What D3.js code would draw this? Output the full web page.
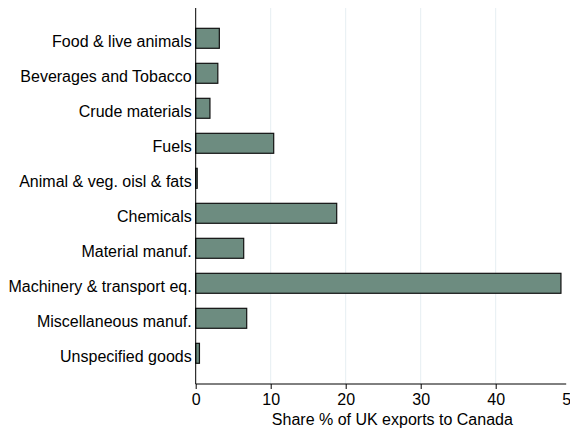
<!DOCTYPE html>
<html>
<head>
<meta charset="utf-8">
<script src="https://cdn.jsdelivr.net/npm/d3@7"></script>
<style>
  html, body { margin: 0; padding: 0; background: #fff; }
  svg { display: block; font-family: "Liberation Sans", Arial, sans-serif; }
</style>
</head>
<body>
<svg id="chart" width="570" height="430"></svg>
<script>
// SITC product groups and their share of UK exports to Canada (%)
const categories = [
  "Food & live animals",
  "Beverages and Tobacco",
  "Crude materials",
  "Fuels",
  "Animal & veg. oisl & fats",
  "Chemicals",
  "Material manuf.",
  "Machinery & transport eq.",
  "Miscellaneous manuf.",
  "Unspecified goods"
];
const shares = [3.15, 2.95, 1.9, 10.4, 0.2, 18.8, 6.4, 48.7, 6.8, 0.5];
const xTicks = [0, 10, 20, 30, 40, 50];
const xTitle = "Share % of UK exports to Canada";

const data = categories.map((c, i) => ({ cat: c, value: shares[i] }));

const svg = d3.select("#chart");
const x0 = 195.7, xEnd = 570.7;   // 0 .. 50
const plotTop = 8, plotBottom = 384;
const FONT = "Liberation Sans, Arial, sans-serif";

const x = d3.scaleLinear().domain([0, 50]).range([x0, xEnd]);
const y = d3.scaleBand().domain(categories)
  .range([20.8, 370.8]).paddingInner(0.43).paddingOuter(0.215);

// vertical grid lines
svg.append("g")
  .selectAll("line")
  .data(xTicks.filter(t => t > 0))
  .join("line")
  .attr("x1", d => x(d)).attr("x2", d => x(d))
  .attr("y1", plotTop).attr("y2", plotBottom)
  .attr("stroke", "#e6eef2").attr("stroke-width", 1);

// bars
svg.append("g")
  .selectAll("rect")
  .data(data)
  .join("rect")
  .attr("x", x(0))
  .attr("y", d => y(d.cat))
  .attr("width", d => x(d.value) - x(0))
  .attr("height", y.bandwidth())
  .attr("fill", "#6d8c80")
  .attr("stroke", "#111")
  .attr("stroke-width", 1.2);

// category axis
const yAxis = d3.axisLeft(y).tickSize(0).tickPadding(4);
const gy = svg.append("g").attr("transform", `translate(${x0},0)`).call(yAxis);
gy.select(".domain").attr("d", `M0,${plotTop}V${plotBottom}`).attr("stroke", "#000");
gy.selectAll("text").attr("font-size", 16).attr("fill", "#000")
  .attr("font-family", FONT).attr("dy", "0.57em");

// value axis
const xAxis = d3.axisBottom(x).tickValues(xTicks).tickSize(5).tickPadding(5)
  .tickFormat(d3.format("d"));
const gx = svg.append("g").attr("transform", `translate(0,${plotBottom})`).call(xAxis);
gx.select(".domain").attr("d", `M${x0},0H${x(49.4)}`).attr("stroke", "#000");
gx.selectAll(".tick line").attr("stroke", "#000");
gx.selectAll("text").attr("font-size", 16).attr("fill", "#000")
  .attr("font-family", FONT);

// axis title
svg.append("text")
  .attr("x", (x0 + 589) / 2)
  .attr("y", 424.5)
  .attr("text-anchor", "middle")
  .attr("font-size", 16)
  .attr("font-family", FONT)
  .attr("fill", "#000")
  .text(xTitle);
</script>
</body>
</html>
